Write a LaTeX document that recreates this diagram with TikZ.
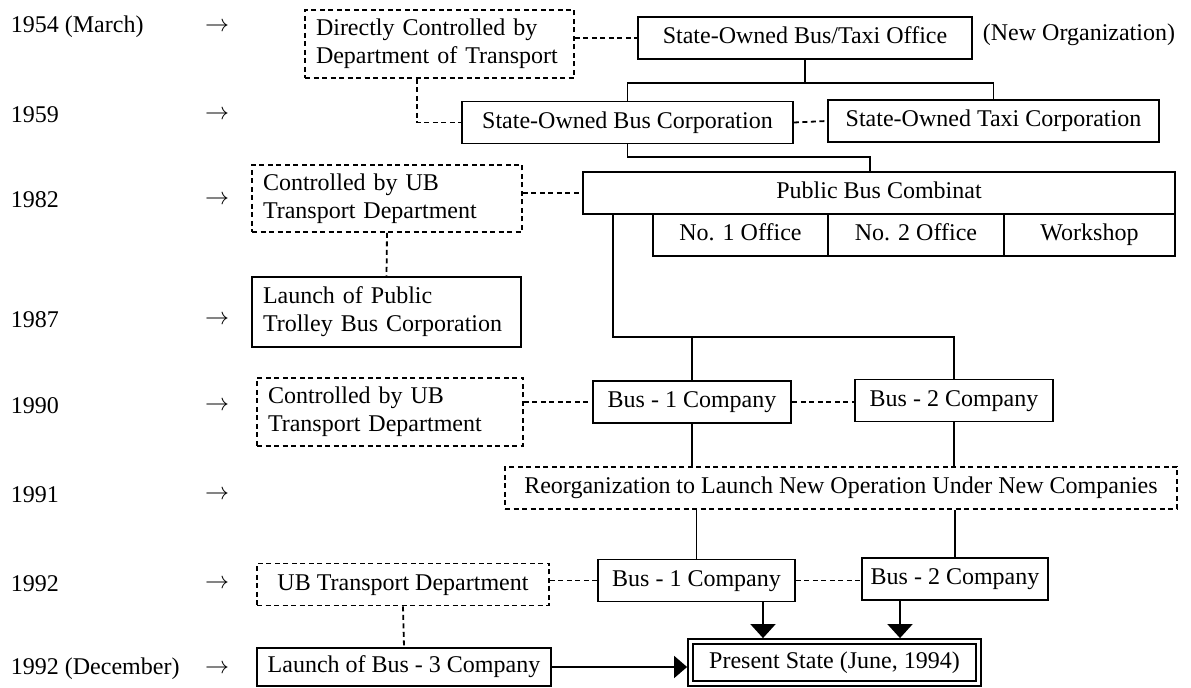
\documentclass[tikz,border=0pt]{standalone}
\usepackage{fontspec}
\setmainfont{Liberation Serif}
\usetikzlibrary{arrows.meta}

\begin{document}
\begin{tikzpicture}[
                x = 0.5pt, y = -0.5pt, % one unit per pixel, y downwards
                > = {Triangle[length = 7pt, width = 12.5pt]}, % arrow head style
                line width = 0.9pt % line style
            ]

            \tikzstyle{every node}=[font = \fontsize{12}{14}\selectfont,
            inner sep = 0pt]
            \tikzstyle{box}=[draw, line width = 0.9pt, minimum height = 21pt,
            text height = 8.5pt, text depth = 2.5pt]
            \tikzstyle{dbox}=[box, dash pattern = on 2.5pt off 1.75pt]
            \tikzstyle{lbox}=[align = left, inner xsep = 5.5pt,
            text height = {}, text depth = {}]
            \tikzstyle{year}=[anchor = west]
            \tikzstyle{link}=[dash pattern = on 2.5pt off 1.75pt]

            \useasboundingbox (0,0) rectangle (1191,688);

            % time line
            \node (t1) [year] at (10,27) {1954 (March)}; \node (t2) [year] at
            (10,115) {1959}; \node (t3) [year] at (10,200) {1982}; \node (t4)
            [year] at (10,320) {1987}; \node (t5) [year] at (10,406) {1990};
            \node (t6) [year] at (10,495) {1991}; \node (t7) [year] at (10,584)
            {1992}; \node (t8) [year] at (10,669) {1992 (December)};

            \node (a1) at (217,27) {$\rightarrow$}; \node (a2) at (217,115)
            {$\rightarrow$}; \node (a3) at (217,200) {$\rightarrow$}; \node (a4)
            at (217,320) {$\rightarrow$}; \node (a5) at (217,406)
            {$\rightarrow$}; \node (a6) at (217,495) {$\rightarrow$}; \node (a7)
            at (217,584) {$\rightarrow$}; \node (a8) at (217,669)
            {$\rightarrow$};

            % organizations
            \node (A) [dbox, lbox, text width = 123.5pt, minimum height = 34pt]
            at (439.5,44) {Directly Controlled by\\Department of Transport};
            \node (B) [box, minimum width = 167pt] at (805,38) {State-Owned
            Bus/Taxi Office}; \node (new) [anchor = west] at (982,35) {(New
            Organization)};
            \node (C) [box, minimum width = 165.5pt] at (627.5,122.5)
            {State-Owned Bus Corporation}; \node (D) [box, minimum width =
            165.5pt] at (993.5,121) {State-Owned Taxi Corporation};
            \node (E) [dbox, lbox, text width = 124pt, minimum height = 33.5pt]
            at (387,198.5) {Controlled by UB\\Transport Department};
            \node (P) [box, minimum width = 296pt] at (879,193) {Public Bus
            Combinat}; \node (P1) [box, minimum width = 87.5pt] at (740.5,235)
            {No. 1 Office}; \node (P2) [box, minimum width = 88pt] at (916,235)
            {No. 2 Office}; \node (P3) [box, minimum width = 85.5pt] at
            (1089.5,235) {Workshop};
            \node (F) [box, lbox, text width = 123.5pt, minimum height = 35pt]
            at (386.5,312) {Launch of Public\\Trolley Bus Corporation};
            \node (G) [dbox, lbox, text width = 122pt, minimum height = 34pt]
            at (390,412) {Controlled by UB\\Transport Department};
            \node (H) [box, line width = 1.4pt, minimum width = 99pt] at
            (692,402) {Bus - 1 Company}; \node (I) [box, minimum width = 99pt]
            at (954,400.5) {Bus - 2 Company};
            \node (R) [dbox, minimum width = 336pt] at (841,488)
            {Reorganization to Launch New Operation Under New Companies};
            \node (U) [dbox, minimum width = 146pt] at (403,584.5) {UB
            Transport Department}; \node (J) [box, minimum width = 98.5pt] at
            (696.5,580.5) {Bus - 1 Company}; \node (K) [box, minimum width =
            93pt] at (955,579) {Bus - 2 Company};
            \node (L) [box, minimum width = 147pt, minimum height = 19pt] at
            (404,667) {Launch of Bus - 3 Company}; \node (S) [box, double,
            double distance = 1.6pt, minimum width = 144pt] at (834.5,662.5)
            {Present State (June, 1994)};

            \coordinate (bj) at (805,83); \coordinate (cj) at (870,157);
            \coordinate (pj) at (614,337);
            \coordinate (sa) at ([xshift = -35.75pt]S.north); \coordinate (sb)
            at ([xshift = 32.75pt]S.north);

            % links
            \draw[link] (A.east |- B) -- (B.west); \draw[link] ([xshift =
            -11.25pt]A.south) |- (C.west); \draw[link] (C.east) -- (D.west);
            \draw (B.south) -- (bj); \draw (C.north) |- (bj) -| (D.north);
            \draw (C.south) |- (cj) -- (cj |- P.north);
            \draw[link] (E.east |- P) -- (P.west); \draw[link] (E.south) --
            (F.north);
            \draw ([xshift = 15.5pt]P.south west) |- (pj -| I) -- (I.north);
            \draw (H.north) -- (H |- pj);
            \draw[link] (G.east |- H) -- (H.west); \draw[link] (H.east) --
            (H.east -| I.west);
            \draw (H.south) -- (H.south |- R.north); \draw (I.south) --
            (I.south |- R.north); \draw (J.north) -- (J.north |- R.south);
            \draw (K.north) -- (K.north |- R.south);
            \draw[link] (U.east |- J) -- (J.west); \draw[link] (J.east) --
            (J.east -| K.west); \draw[link] (U.south) -- (L.north);

            \draw[->, > = {Triangle[length = 6.5pt, width = 11pt]}] (L.east)
            -- ([xshift = -1.25pt]L.east -| S.west);
            \draw[->] (sa |- J.south) -- ([yshift = 1.25pt]sa); \draw[->] (sb
            |- K.south) -- ([yshift = 1.25pt]sb);

        \end{tikzpicture}
\end{document}
